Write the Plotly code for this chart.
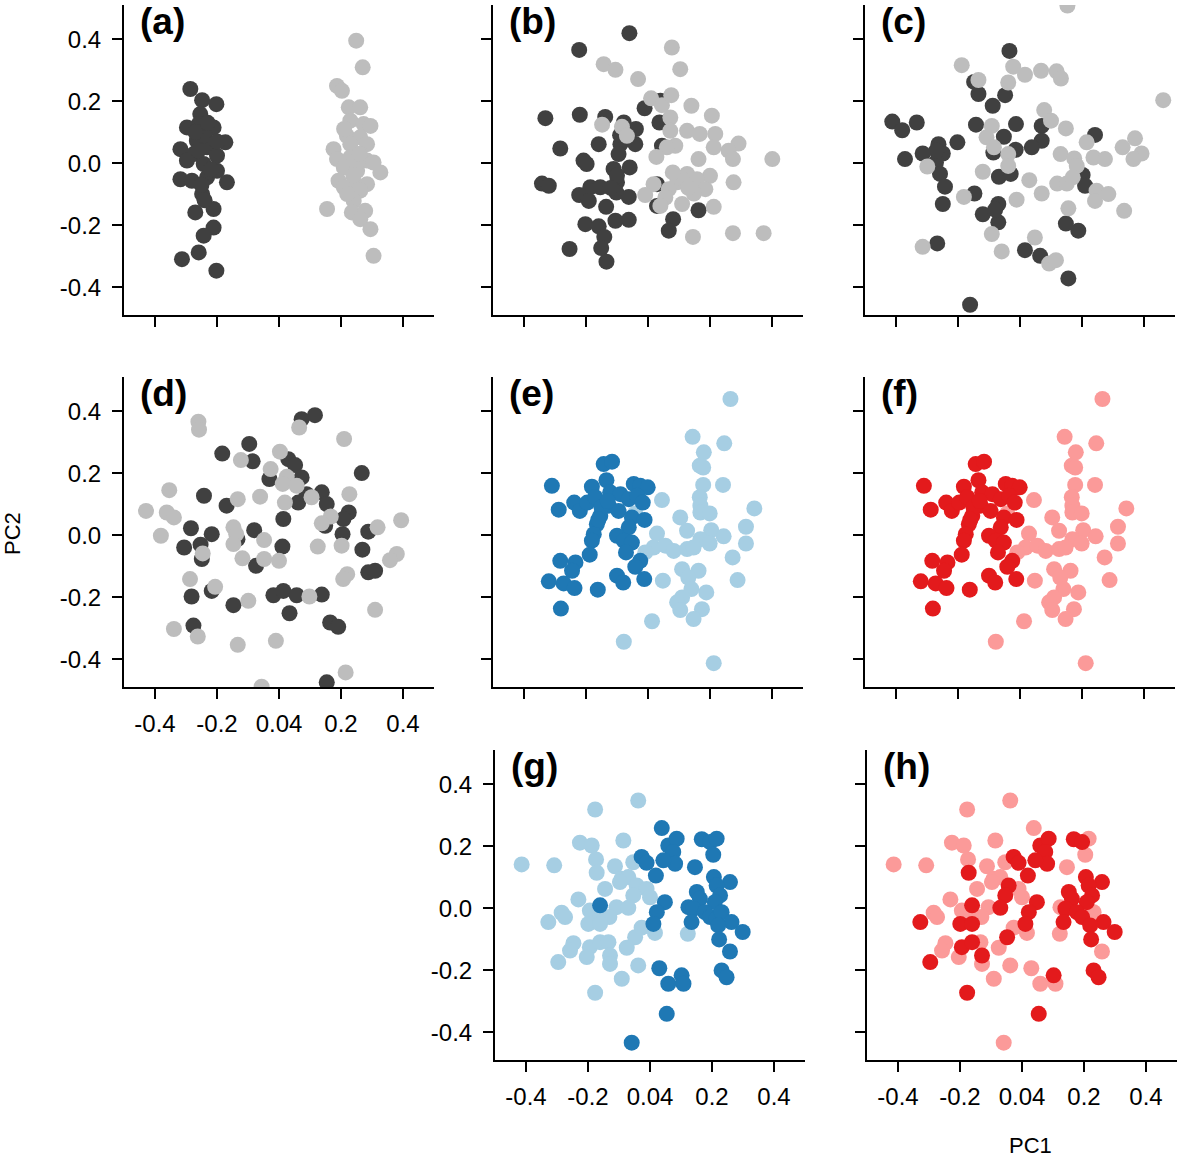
import plotly.graph_objects as go

# ── Colours ──────────────────────────────────────────────────────────────────
DARK_GREY, LIGHT_GREY = "#404040", "#bdbdbd"
DARK_BLUE, LIGHT_BLUE = "#1f78b4", "#a6cee3"
DARK_RED, LIGHT_RED = "#e31a1c", "#fb9a99"

FONT = "Liberation Sans, Arial, Helvetica, sans-serif"
W, H = 1178, 1160
SIDE = 310  # panel size in px

TICK_VALS = [-0.4, -0.2, 0.0, 0.2, 0.4]
X_TICK_TEXT = ["-0.4", "-0.2", "0.04", "0.2", "0.4"]
Y_TICK_TEXT = ["-0.4", "-0.2", "0.0", "0.2", "0.4"]

# ── Panel (a) ────────────────────────────────────────────────────────────────
A_DARK_X = [-0.286, -0.248, -0.202, -0.254, -0.259, -0.297, -0.211, -0.173, -0.318, -0.265,
            -0.232, -0.275, -0.200, -0.297, -0.243, -0.318, -0.281, -0.232, -0.168, -0.248,
            -0.200, -0.270, -0.211, -0.211, -0.243, -0.313, -0.259, -0.202, -0.24, -0.26,
            -0.22, -0.25, -0.27, -0.23, -0.24, -0.20]
A_DARK_Y = [0.239, 0.203, 0.190, 0.158, 0.126, 0.115, 0.115, 0.067, 0.045, 0.072,
            0.051, 0.029, 0.024, 0.008, -0.003, -0.052, -0.057, -0.046, -0.062, -0.100,
            -0.025, -0.159, -0.148, -0.208, -0.234, -0.310, -0.288, -0.347, 0.09, 0.04,
            -0.02, -0.07, 0.10, 0.13, -0.12, 0.07]
A_LIGHT_X = [0.249, 0.270, 0.187, 0.203, 0.225, 0.262, 0.230, 0.273, 0.295, 0.219,
             0.262, 0.176, 0.230, 0.284, 0.187, 0.230, 0.284, 0.305, 0.327, 0.209,
             0.252, 0.192, 0.241, 0.284, 0.209, 0.262, 0.241, 0.155, 0.235, 0.278,
             0.262, 0.295, 0.305, 0.25, 0.22, 0.26, 0.21, 0.24]
A_LIGHT_Y = [0.395, 0.309, 0.249, 0.233, 0.180, 0.180, 0.137, 0.126, 0.120, 0.088,
             0.083, 0.045, 0.061, 0.061, 0.013, 0.018, 0.008, 0.002, -0.030, -0.014,
             -0.025, -0.057, -0.062, -0.068, -0.078, -0.089, -0.122, -0.148, -0.159, -0.154,
             -0.181, -0.213, -0.299, 0.0, -0.10, 0.03, 0.11, -0.04]

# ── Panel (b) ────────────────────────────────────────────────────────────────
B_DARK_X = [-0.060, -0.222, -0.331, -0.220, -0.138, -0.078, -0.039, -0.011, 0.040, 0.037,
            -0.283, -0.159, -0.089, -0.041, 0.045, -0.208, -0.198, -0.095, -0.059, -0.111,
            -0.342, -0.320, -0.100, -0.186, -0.154, -0.222, -0.191, -0.102, -0.062, 0.029,
            0.029, -0.135, 0.163, 0.081, 0.067, -0.202, -0.159, -0.105, -0.062, -0.141,
            -0.151, -0.253, -0.134, -0.09, -0.10, -0.12]
B_DARK_Y = [0.419, 0.365, 0.145, 0.156, 0.149, 0.131, 0.110, 0.177, 0.201, 0.131,
            0.047, 0.061, 0.061, 0.061, 0.056, 0.008, -0.003, 0.029, -0.014, -0.019,
            -0.066, -0.073, -0.062, -0.078, -0.078, -0.103, -0.122, -0.095, -0.109, -0.068,
            -0.138, -0.141, -0.152, -0.181, -0.218, -0.197, -0.204, -0.186, -0.183, -0.238,
            -0.274, -0.277, -0.318, 0.09, -0.04, -0.08]
B_LIGHT_X = [0.077, 0.104, -0.143, -0.105, -0.032, 0.010, 0.045, 0.075, 0.140, 0.206,
             0.072, -0.148, -0.084, -0.068, 0.072, 0.126, 0.167, 0.217, 0.292, 0.260,
             0.212, 0.088, 0.061, 0.027, 0.163, 0.274, 0.401, 0.126, 0.200, 0.158,
             0.094, 0.276, 0.018, 0.185, 0.067, 0.148, -0.009, 0.056, 0.040, 0.110,
             0.212, 0.145, 0.274, 0.373, 0.11, 0.08, 0.13]
B_LIGHT_Y = [0.373, 0.303, 0.319, 0.301, 0.271, 0.209, 0.187, 0.219, 0.185, 0.153,
             0.147, 0.124, 0.117, 0.088, 0.104, 0.104, 0.094, 0.094, 0.063, 0.040,
             0.051, 0.056, 0.051, 0.020, 0.013, 0.013, 0.013, -0.035, -0.041, -0.052,
             -0.062, -0.062, -0.068, -0.084, -0.084, -0.098, -0.103, -0.111, -0.138, -0.132,
             -0.141, -0.238, -0.226, -0.226, -0.05, -0.03, -0.08]

# ── Panel (c) ────────────────────────────────────────────────────────────────
C_DARK_X = [-0.034, -0.148, -0.134, -0.048, -0.088, -0.412, -0.380, -0.333, -0.142, -0.013,
            0.070, -0.052, -0.202, -0.263, 0.070, 0.038, -0.014, -0.314, -0.249, -0.086,
            -0.371, -0.271, -0.258, -0.068, -0.030, 0.242, 0.202, 0.210, -0.242, -0.147,
            -0.249, -0.070, -0.120, -0.070, 0.148, 0.188, -0.267, 0.016, 0.065, 0.156,
            -0.161, -0.08, -0.27]
C_DARK_Y = [0.362, 0.262, 0.223, 0.219, 0.185, 0.134, 0.106, 0.131, 0.124, 0.126,
            0.120, 0.085, 0.067, 0.061, 0.072, 0.051, 0.043, 0.031, 0.031, 0.034,
            0.013, 0.002, -0.035, -0.044, -0.035, 0.091, -0.038, -0.073, -0.076, -0.098,
            -0.132, -0.132, -0.165, -0.191, -0.195, -0.218, -0.259, -0.281, -0.299, -0.372,
            -0.457, -0.15, 0.04]
C_LIGHT_X = [0.153, -0.188, -0.022, 0.016, 0.068, 0.118, 0.132, -0.134, -0.038, 0.462,
             0.078, 0.100, 0.148, -0.091, -0.108, 0.215, 0.371, 0.331, 0.392, 0.366,
             -0.084, -0.038, -0.038, 0.131, 0.175, 0.237, 0.274, 0.183, -0.299, -0.120,
             0.030, 0.120, 0.151, 0.170, 0.070, -0.181, -0.011, 0.247, 0.285, 0.242,
             0.156, 0.336, -0.091, 0.048, -0.314, -0.059, 0.094, 0.116]
C_LIGHT_Y = [0.508, 0.316, 0.311, 0.285, 0.298, 0.296, 0.273, 0.268, 0.260, 0.203,
             0.171, 0.137, 0.112, 0.120, 0.083, 0.067, 0.080, 0.051, 0.031, 0.013,
             0.051, 0.029, -0.009, 0.029, 0.015, 0.018, 0.013, -0.009, -0.011, -0.028,
             -0.055, -0.066, -0.066, -0.046, -0.098, -0.109, -0.118, -0.089, -0.100, -0.122,
             -0.146, -0.154, -0.229, -0.240, -0.270, -0.285, -0.324, -0.313]

# ── Panel (d) ────────────────────────────────────────────────────────────────
D_DARK_X = [0.073, 0.116, -0.096, -0.183, -0.085, 0.030, 0.052, 0.073, -0.031, 0.267,
            -0.242, -0.169, 0.062, 0.089, 0.138, 0.154, 0.225, 0.208, 0.149, 0.014,
            0.205, -0.284, -0.217, -0.080, -0.134, 0.288, -0.306, -0.253, -0.249, 0.011,
            0.269, -0.074, 0.288, 0.310, -0.282, -0.217, -0.147, -0.018, 0.014, 0.057,
            0.138, 0.034, 0.165, 0.191, -0.276, 0.154]
D_DARK_Y = [0.374, 0.387, 0.294, 0.263, 0.238, 0.245, 0.226, 0.186, 0.181, 0.200,
            0.127, 0.095, 0.105, 0.132, 0.138, 0.100, 0.073, 0.052, 0.030, 0.052,
            0.003, 0.022, 0.003, 0.016, -0.013, 0.011, -0.040, -0.031, -0.077, -0.037,
            -0.047, -0.099, -0.120, -0.115, -0.198, -0.180, -0.226, -0.194, -0.180, -0.194,
            -0.192, -0.252, -0.282, -0.296, -0.292, -0.475]
D_LIGHT_X = [-0.260, -0.258, 0.065, 0.210, 0.003, -0.123, -0.027, 0.025, 0.012, 0.057,
             -0.354, -0.133, -0.061, 0.105, 0.227, 0.019, -0.429, -0.362, -0.339, 0.167,
             0.138, 0.394, -0.147, -0.138, 0.318, -0.381, -0.048, -0.147, 0.125, 0.202,
             -0.246, -0.118, -0.048, 0.000, 0.380, 0.358, 0.220, 0.207, -0.287, -0.206,
             -0.099, 0.098, 0.310, -0.339, -0.262, -0.133, -0.010, 0.215, -0.056]
D_LIGHT_Y = [0.366, 0.340, 0.347, 0.310, 0.269, 0.242, 0.213, 0.188, 0.165, 0.159,
             0.145, 0.116, 0.124, 0.122, 0.132, 0.105, 0.078, 0.073, 0.057, 0.060,
             0.038, 0.048, 0.025, 0.003, 0.025, -0.002, -0.016, -0.029, -0.037, -0.034,
             -0.059, -0.075, -0.077, -0.083, -0.061, -0.081, -0.126, -0.142, -0.142, -0.167,
             -0.212, -0.198, -0.241, -0.303, -0.327, -0.354, -0.341, -0.443, -0.489]

# ── Panels (e) and (f): same points and grouping ─────────────────────────────
EF_DARK_X = [-0.143, -0.116, -0.310, -0.134, -0.181, -0.046, -0.025, -0.001, -0.238, -0.220,
             -0.196, -0.170, -0.122, -0.089, -0.062, -0.035, -0.017, -0.288, -0.127, -0.095,
             -0.154, -0.165, -0.052, -0.011, -0.062, -0.175, -0.181, -0.100, -0.078, -0.052,
             -0.071, -0.188, -0.283, -0.234, -0.025, -0.041, -0.245, -0.320, -0.272, -0.237,
             -0.100, -0.080, -0.012, -0.162, -0.281, -0.15, -0.13, -0.16]
EF_DARK_Y = [0.229, 0.237, 0.159, 0.177, 0.156, 0.165, 0.159, 0.154, 0.105, 0.078,
             0.105, 0.122, 0.138, 0.132, 0.116, 0.127, 0.105, 0.082, 0.095, 0.078,
             0.062, 0.035, 0.057, 0.049, 0.025, 0.003, -0.018, -0.002, -0.018, -0.024,
             -0.056, -0.063, -0.083, -0.088, -0.083, -0.102, -0.115, -0.149, -0.156, -0.171,
             -0.131, -0.153, -0.142, -0.176, -0.237, 0.09, 0.11, 0.05]
EF_LIGHT_X = [0.266, 0.144, 0.246, 0.180, 0.167, 0.178, 0.178, 0.242, 0.045, 0.167,
              0.169, 0.343, 0.169, 0.199, -0.041, 0.104, 0.316, 0.126, 0.204, 0.029,
              0.244, 0.169, 0.199, 0.316, 0.018, 0.056, 0.083, 0.126, 0.147, -0.009,
              0.273, 0.110, 0.163, 0.130, 0.048, 0.289, 0.140, 0.188, 0.110, 0.094,
              0.104, 0.174, 0.147, 0.013, -0.078, 0.212]
EF_LIGHT_Y = [0.439, 0.317, 0.296, 0.267, 0.224, 0.218, 0.162, 0.162, 0.113, 0.122,
              0.095, 0.086, 0.073, 0.070, 0.070, 0.057, 0.027, 0.014, 0.016, 0.005,
              -0.004, -0.013, -0.027, -0.027, -0.040, -0.034, -0.051, -0.045, -0.040, -0.056,
              -0.072, -0.110, -0.115, -0.137, -0.147, -0.145, -0.174, -0.185, -0.201, -0.217,
              -0.242, -0.239, -0.271, -0.278, -0.344, -0.413]

# ── Panels (g) and (h): same points, two different groupings (1 = dark) ──────
GH_X = [-0.038, -0.177, -0.226, -0.188, -0.086, -0.414, -0.309, -0.174, -0.172, -0.113,
        -0.054, -0.091, -0.070, -0.097, -0.043, -0.011, -0.145, 0.000, -0.054, -0.231,
        -0.108, -0.070, -0.194, -0.285, -0.274, -0.328, -0.161, -0.131, -0.199, -0.161,
        -0.027, 0.016, 0.122, -0.048, -0.247, -0.258, -0.194, -0.161, -0.134, -0.204,
        -0.075, -0.129, -0.129, -0.296, -0.038, -0.091, -0.177,
        0.038, 0.059, 0.086, 0.075, 0.081, 0.043, -0.027, -0.011, 0.019, 0.167,
        0.194, 0.215, 0.204, 0.145, 0.206, 0.258, 0.215, 0.151, 0.161, 0.226,
        0.209, 0.048, 0.022, 0.124, 0.140, 0.177, 0.194, 0.215, 0.231, 0.134,
        0.263, 0.299, 0.011, 0.220, -0.161, 0.223, 0.258, 0.030, 0.059, 0.102,
        0.108, 0.231, 0.247, 0.054, -0.059]
GH_Y = [0.347, 0.318, 0.211, 0.202, 0.218, 0.141, 0.138, 0.157, 0.114, 0.135,
        0.148, 0.095, 0.100, 0.084, 0.073, 0.062, 0.062, 0.035, 0.041, 0.028,
        0.003, 0.001, -0.008, -0.015, -0.029, -0.045, -0.034, -0.029, -0.051, -0.051,
        -0.063, -0.080, -0.083, -0.094, -0.113, -0.137, -0.126, -0.110, -0.110, -0.158,
        -0.128, -0.153, -0.180, -0.174, -0.185, -0.228, -0.273,
        0.258, 0.202, 0.224, 0.181, 0.143, 0.154, 0.165, 0.146, 0.105, 0.222,
        0.213, 0.224, 0.172, 0.132, 0.100, 0.084, 0.073, 0.052, 0.030, 0.041,
        0.019, 0.019, -0.013, 0.003, -0.002, -0.013, -0.029, -0.034, -0.013, -0.045,
        -0.045, -0.077, -0.051, -0.056, 0.009, -0.101, -0.140, -0.194, -0.244, -0.217,
        -0.244, -0.201, -0.223, -0.341, -0.434]
G_GROUP = [0] * 47 + [1] * 45
H_GROUP = [0, 0, 0, 0, 0, 0, 0, 0, 1, 0,
           0, 0, 0, 0, 1, 0, 0, 0, 1, 0,
           0, 1, 0, 0, 0, 1, 0, 0, 1, 1,
           0, 0, 0, 1, 0, 0, 1, 1, 0, 0,
           0, 1, 0, 1, 0, 0, 1,
           0, 1, 1, 1, 1, 1, 1, 1, 1, 1,
           1, 0, 0, 0, 1, 1, 1, 1, 1, 1,
           1, 1, 1, 0, 1, 1, 1, 0, 0, 1,
           1, 1, 1, 1, 1, 1, 0, 0, 0, 1,
           0, 1, 1, 1, 0]


def split(xs, ys, groups):
    lo = ([x for x, g in zip(xs, groups) if g == 0], [y for y, g in zip(ys, groups) if g == 0])
    hi = ([x for x, g in zip(xs, groups) if g == 1], [y for y, g in zip(ys, groups) if g == 1])
    return lo, hi


g_lo, g_hi = split(GH_X, GH_Y, G_GROUP)
h_lo, h_hi = split(GH_X, GH_Y, H_GROUP)

# label, left px, top px, layers (drawn in order), show x labels, show y labels
PANELS = [
    ("(a)", 124, 5, [((A_DARK_X, A_DARK_Y), DARK_GREY), ((A_LIGHT_X, A_LIGHT_Y), LIGHT_GREY)], False, True),
    ("(b)", 493, 5, [((B_DARK_X, B_DARK_Y), DARK_GREY), ((B_LIGHT_X, B_LIGHT_Y), LIGHT_GREY)], False, False),
    ("(c)", 865, 5, [((C_DARK_X, C_DARK_Y), DARK_GREY), ((C_LIGHT_X, C_LIGHT_Y), LIGHT_GREY)], False, False),
    ("(d)", 124, 377, [((D_DARK_X, D_DARK_Y), DARK_GREY), ((D_LIGHT_X, D_LIGHT_Y), LIGHT_GREY)], True, True),
    ("(e)", 493, 377, [((EF_LIGHT_X, EF_LIGHT_Y), LIGHT_BLUE), ((EF_DARK_X, EF_DARK_Y), DARK_BLUE)], False, False),
    ("(f)", 865, 377, [((EF_LIGHT_X, EF_LIGHT_Y), LIGHT_RED), ((EF_DARK_X, EF_DARK_Y), DARK_RED)], False, False),
    ("(g)", 495, 750, [(g_lo, LIGHT_BLUE), (g_hi, DARK_BLUE)], True, True),
    ("(h)", 867, 750, [(h_lo, LIGHT_RED), (h_hi, DARK_RED)], True, False),
]

fig = go.Figure()
layout = dict(
    width=W, height=H,
    margin=dict(l=0, r=0, t=0, b=0),
    paper_bgcolor="white", plot_bgcolor="white",
    showlegend=False,
    font=dict(family=FONT, size=24, color="black"),
    annotations=[],
)

for i, (label, left, top, layers, show_x, show_y) in enumerate(PANELS, start=1):
    sfx = "" if i == 1 else str(i)
    xa, ya = f"x{sfx}", f"y{sfx}"
    for (xs, ys), colour in layers:
        fig.add_trace(go.Scatter(
            x=xs, y=ys, mode="markers", xaxis=xa, yaxis=ya,
            marker=dict(size=16, color=colour, line=dict(width=0)),
            hoverinfo="skip",
        ))
    common = dict(
        showline=True, linecolor="black", linewidth=2,
        ticks="outside", ticklen=10, tickwidth=2, tickcolor="black",
        showgrid=False, zeroline=False, tickvals=TICK_VALS,
        tickfont=dict(family=FONT, size=24, color="black"),
        fixedrange=True,
    )
    layout[f"xaxis{sfx}"] = dict(
        common, domain=[left / W, (left + SIDE) / W], range=[-0.5, 0.5],
        anchor=ya, ticktext=X_TICK_TEXT, showticklabels=show_x, ticklabelstandoff=4,
    )
    layout[f"yaxis{sfx}"] = dict(
        common, domain=[1 - (top + SIDE) / H, 1 - top / H], range=[-0.49, 0.51],
        anchor=xa, ticktext=Y_TICK_TEXT, showticklabels=show_y, ticklabelstandoff=6,
    )
    layout["annotations"].append(dict(
        text=f"<b>{label}</b>", xref=f"{xa} domain", yref=f"{ya} domain",
        x=0.045, y=0.948, xanchor="left", yanchor="middle", showarrow=False,
        font=dict(family=FONT, size=37, color="black"),
    ))

layout["annotations"].append(dict(
    text="PC2", xref="paper", yref="paper", x=12 / W, y=1 - 534 / H,
    textangle=-90, showarrow=False, xanchor="center", yanchor="middle",
    font=dict(family=FONT, size=22, color="black"),
))
layout["annotations"].append(dict(
    text="PC1", xref="paper", yref="paper", x=1030 / W, y=1 - 1145 / H,
    showarrow=False, xanchor="center", yanchor="middle",
    font=dict(family=FONT, size=22, color="black"),
))

fig.update_layout(layout)
# the page's default body margin would shift the whole figure by 8 px
fig.write_html(
    "out.html",
    config={"displayModeBar": False},
    post_script="document.body.style.margin='0px';",
)
